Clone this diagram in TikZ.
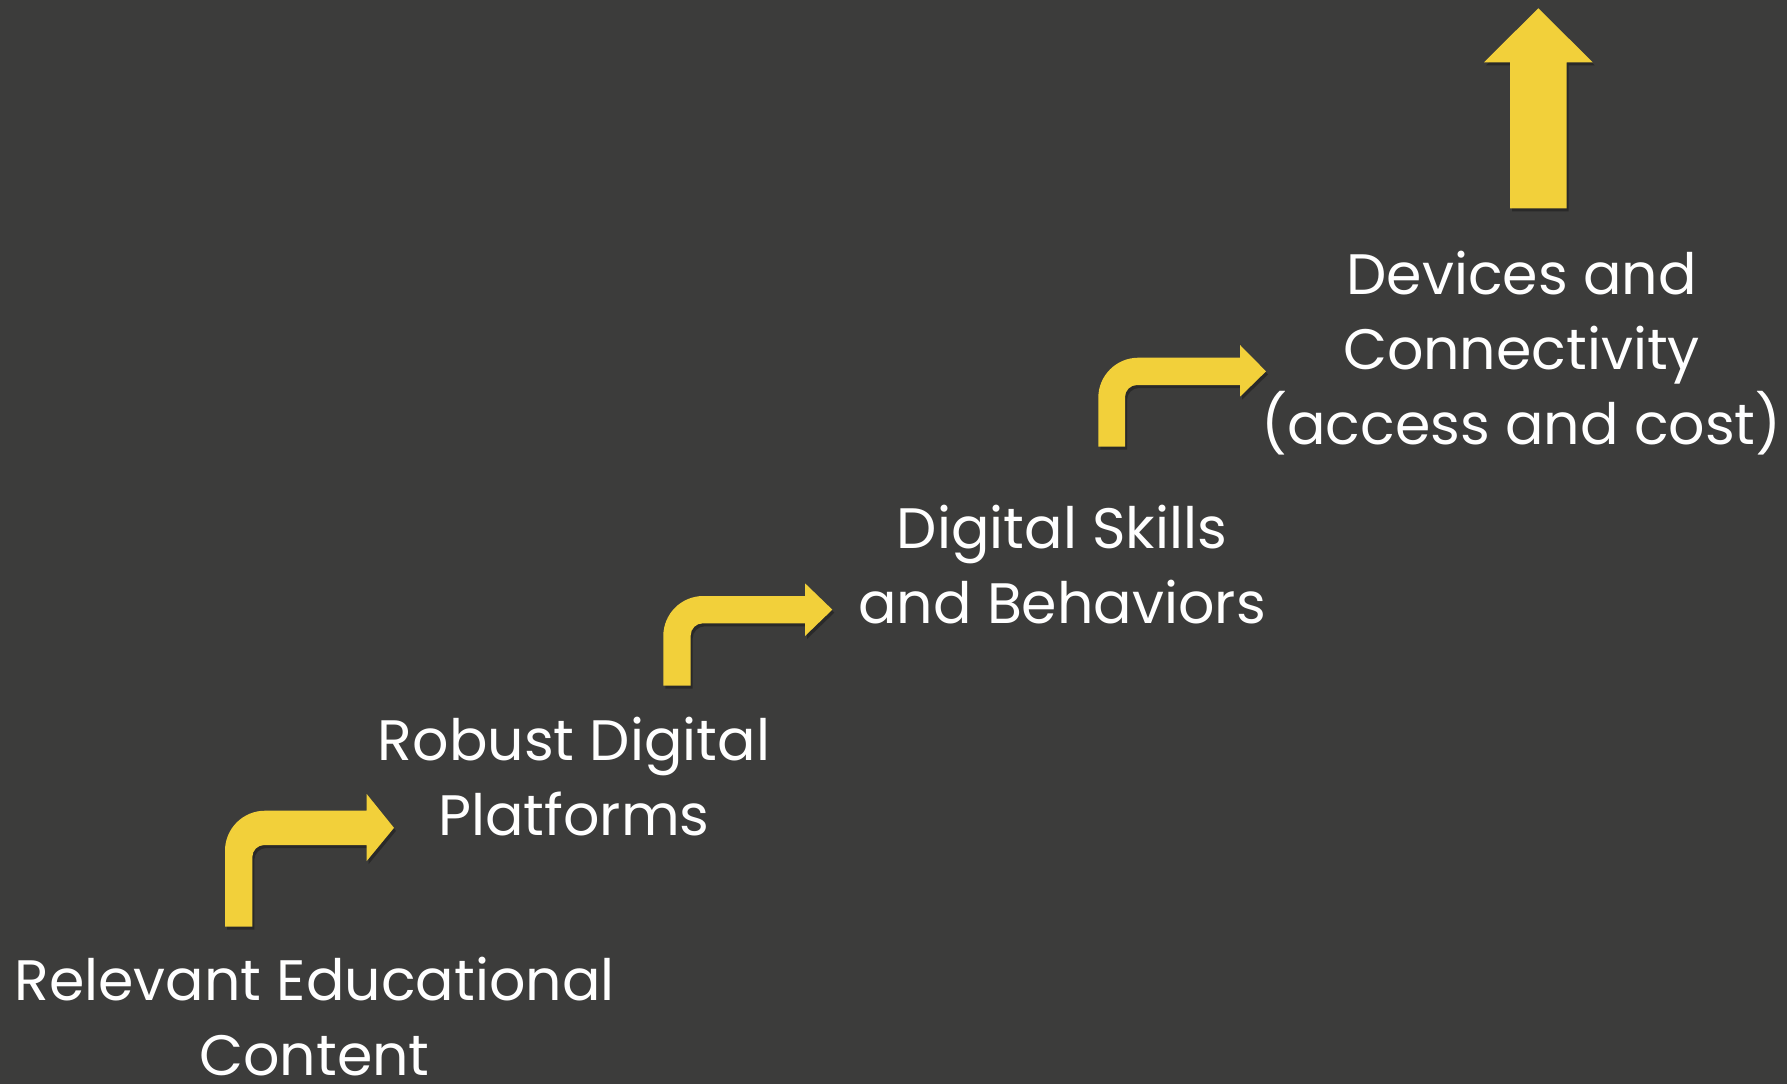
\documentclass[tikz,border=0pt]{standalone}
\usepackage{fontspec}
\setmainfont{Poppins}

\definecolor{board}{RGB}{60,60,59}
\definecolor{chalkyellow}{RGB}{242,208,58}

% one bent arrow: stem left, stem right, stem bottom, bar top, bar bottom,
% head base x, head top, head bottom, tip x
\newcommand{\bendarrow}[9]{%
  (#1,#3) -- (#1,{#4+40}) arc[start angle=180,end angle=270,radius=40]
  -- (#6,#4) -- (#6,#7) -- (#9,{(#4+#5)/2}) -- (#6,#8) -- (#6,#5)
  -- ({#2+12},#5) arc[start angle=270,end angle=180,radius=12]
  -- (#2,#3) -- cycle}

\tikzset{
  chalktext/.style={text=white, align=center, anchor=base, inner sep=0pt,
    font=\fontsize{57}{75}\selectfont},
  yellowarrow/.style={fill=chalkyellow},
  arrowshadow/.style={fill=black, opacity=0.3}
}

\begin{document}
\begin{tikzpicture}[x=1pt,y=-1pt]
  \fill[board] (0,0) rectangle (1787,1084);
  \useasboundingbox (0,0) rectangle (1787,1084);

  % shadows first
  \begin{scope}[shift={(2,3)}]
    \fill[arrowshadow] \bendarrow{225}{252.3}{926.7}{810.7}{845}{366.7}{794}{861}{394};
    \fill[arrowshadow] \bendarrow{663.3}{690.7}{685.7}{596}{623.3}{805}{583.3}{636}{832.3};
    \fill[arrowshadow] \bendarrow{1098.3}{1125}{446.7}{357.7}{385}{1240}{345}{396.7}{1266};
    \fill[arrowshadow] (1510,208.3) -- (1510,62.3) -- (1484,62.3) -- (1538.3,8.3)
      -- (1592.7,62.3) -- (1566.7,62.3) -- (1566.7,208.3) -- cycle;
  \end{scope}

  % the steps
  \fill[yellowarrow] \bendarrow{225}{252.3}{926.7}{810.7}{845}{366.7}{794}{861}{394};
  \fill[yellowarrow] \bendarrow{663.3}{690.7}{685.7}{596}{623.3}{805}{583.3}{636}{832.3};
  \fill[yellowarrow] \bendarrow{1098.3}{1125}{446.7}{357.7}{385}{1240}{345}{396.7}{1266};
  \fill[yellowarrow] (1510,208.3) -- (1510,62.3) -- (1484,62.3) -- (1538.3,8.3)
    -- (1592.7,62.3) -- (1566.7,62.3) -- (1566.7,208.3) -- cycle;

  % labels, placed by the baseline of their last line
  \node[chalktext] (content) at (314.6,1075) {Relevant Educational\\Content};
  \node[chalktext] (platforms) at (574,835.5) {Robust Digital\\Platforms};
  \node[chalktext] (skills) at (1062,623) {Digital Skills\\and Behaviors};
  \node[chalktext] (devices) at (1521.5,444.5) {Devices and\\Connectivity\\(access and cost)};
\end{tikzpicture}
\end{document}
